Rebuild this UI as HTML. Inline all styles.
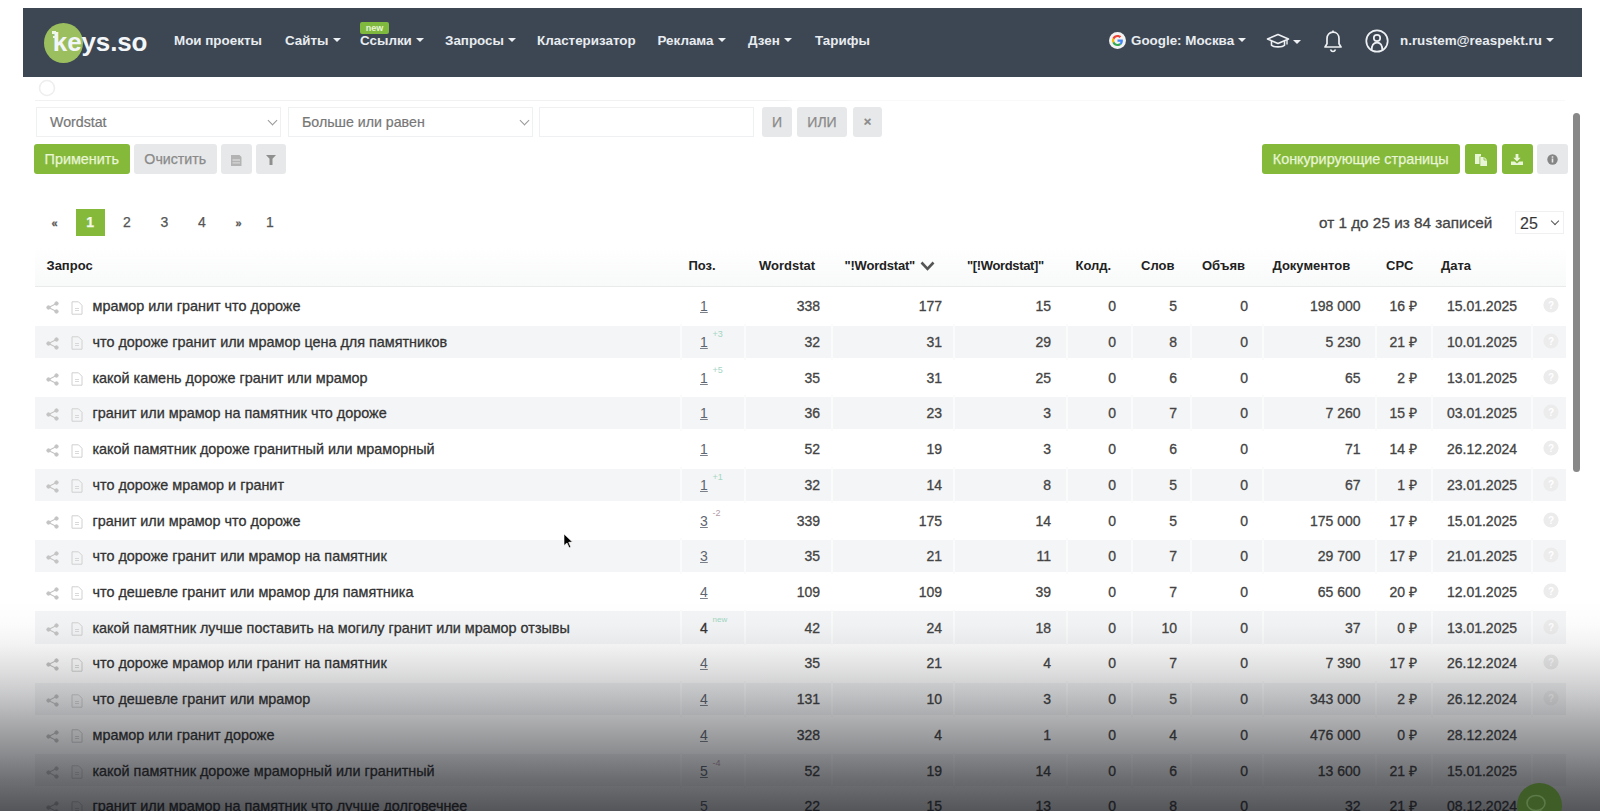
<!DOCTYPE html>
<html lang="ru"><head><meta charset="utf-8"><title>keys.so</title>
<style>
*{box-sizing:border-box;margin:0;padding:0}
html,body{width:1600px;height:811px;overflow:hidden;background:#fff}
body{position:relative;font-family:"Liberation Sans",Arial,sans-serif;color:#333}
.abs{position:absolute;white-space:nowrap}
svg.abs{z-index:3}
/* navbar */
#nav{position:absolute;left:23px;top:8px;width:1559px;height:69px;background:#3d4753}
.nv{position:absolute;top:32.5px;font:bold 13.4px/16px "Liberation Sans",sans-serif;color:#e8ecf0;white-space:nowrap}
.car{display:inline-block;width:0;height:0;border-left:4px solid transparent;border-right:4px solid transparent;border-top:4.5px solid #eef1f4;vertical-align:middle;margin-left:4px;position:relative;top:-1px}
#logo-c{position:absolute;left:44px;top:22.5px;width:39px;height:40px;border-radius:50%;background:#9bbf5e}
#logo-t{position:absolute;left:52.8px;top:27px;font:bold 26px/30px "Liberation Sans",sans-serif;color:#f3f6f9;letter-spacing:-0.12px}
#newb{position:absolute;left:360px;top:21.5px;width:29px;height:12px;background:#7fb93e;border-radius:2px;color:#e8f5d8;font:bold 9px/12px "Liberation Sans",sans-serif;text-align:center}
/* filters */
.sel{position:absolute;height:30px;border:1px solid #eef0f1;background:#fff;font:14.2px/28px "Liberation Sans",sans-serif;color:#777;padding-left:13px;-webkit-text-stroke:.2px #777}
.chev{position:absolute;width:7px;height:7px;border-right:1.5px solid #999;border-bottom:1.5px solid #999;transform:rotate(45deg)}
.btn{position:absolute;height:30px;border-radius:3px;font:14px/30px "Liberation Sans",sans-serif;text-align:center;-webkit-text-stroke:.25px currentColor}
.g{background:#85b93a;color:#e8f5d6}
.gr{background:#e7e8e9;color:#8a8a8a}
/* pagination */
.pg{position:absolute;top:214px;font:14px/17px "Liberation Sans",sans-serif;color:#555;-webkit-text-stroke:.25px #555}
/* table */
#thead{position:absolute;left:35px;top:247px;width:1531px;height:39.5px;background:linear-gradient(#fff,#f8f9f9);border-bottom:1.5px solid #e8eaec}
.th{position:absolute;top:258px;font:bold 13px/16px "Liberation Sans",sans-serif;color:#222;white-space:nowrap}
.row{position:absolute;left:35px;width:1531px;height:35.72px}
.row .bg{position:absolute;left:0;right:0;top:1.8px;bottom:1.9px;background:#f4f5f6}
.sep{position:absolute;top:0;width:1.8px;height:100%;background:#fafbfb}
.row span,.row sup{position:absolute;white-space:nowrap}
.sh{left:11px;top:13px;line-height:0}
.sh svg{fill:#c4c4c4;stroke:#c4c4c4}
.dc{left:36px;top:12.5px;line-height:0}
.dc svg{stroke:#d0d0d0}
.q{left:57.5px;top:9px;font:14.4px/18px "Liberation Sans",sans-serif;color:#333;-webkit-text-stroke:.3px #333}
.pos{left:665px;top:9px;font:14px/18px "Liberation Sans",sans-serif;color:#5f6672;text-decoration:underline;text-decoration-color:#7a808a}
.pos.nou{text-decoration:none;color:#333;-webkit-text-stroke:.3px #333}
.chg{left:677.5px;top:5px;font:9px/10px "Liberation Sans",sans-serif}
.chg.up{color:#a3d6c4}.chg.dn{color:#b49aa6}.chg.new{color:#9fd6c2;font-size:8px}
.n{top:9px;font:14px/18px "Liberation Sans",sans-serif;color:#444;-webkit-text-stroke:.3px #444}
.qq{left:1507.5px;top:9px;line-height:0}
#grad{position:absolute;left:0;top:600px;width:1600px;height:211px;background:linear-gradient(to bottom,rgba(8,10,16,0) 0px,rgba(8,10,16,0.015) 25px,rgba(8,10,16,0.05) 45px,rgba(8,10,16,0.13) 70px,rgba(8,10,16,0.22) 94px,rgba(8,10,16,0.34) 122px,rgba(8,10,16,0.46) 151px,rgba(8,10,16,0.58) 179px,rgba(8,10,16,0.69) 211px)}
#sb{position:absolute;left:1572.8px;top:112.8px;width:7.4px;height:359px;background:#888;border-radius:3.5px}
#chat{position:absolute;left:1516.5px;top:783.3px;width:45px;height:45px;border-radius:50%;background:#3f5d26;z-index:5}
</style></head><body>

<div id="nav"></div>
<div id="logo-c"></div>
<div id="logo-t">keys.so</div>
<div class="abs" style="left:52px;top:31px;width:4px;height:2.6px;background:#eef6e4"></div><div class="abs" style="left:52.6px;top:36.1px;width:3.4px;height:2.3px;background:#eef6e4"></div>
<div class="it-wrap">
<span class="abs nv" style="left:174px">Мои проекты</span>
<span class="abs nv" style="left:285px">Сайты<i class="car"></i></span>
<span class="abs nv" style="left:360px">Ссылки<i class="car"></i></span>
<span class="abs nv" style="left:445px">Запросы<i class="car"></i></span>
<span class="abs nv" style="left:537px">Кластеризатор</span>
<span class="abs nv" style="left:657.5px">Реклама<i class="car"></i></span>
<span class="abs nv" style="left:748px">Дзен<i class="car"></i></span>
<span class="abs nv" style="left:815px">Тарифы</span>
<span class="abs nv" style="left:1131px">Google: Москва<i class="car"></i></span>
<span class="abs nv" style="left:1400px">n.rustem@reaspekt.ru<i class="car"></i></span>
</div>
<div id="newb">new</div>

<!-- nav icons -->
<svg class="abs" style="left:1109px;top:32px" width="17" height="17" viewBox="0 0 17 17"><circle cx="8.5" cy="8.5" r="8.5" fill="#f2f2f2"/><g transform="translate(2.9 2.9) scale(.2333)"><path fill="#EA4335" d="M24 9.5c3.54 0 6.71 1.22 9.21 3.6l6.85-6.850C35.9 2.38 30.47 0 24 0 14.62 0 6.51 5.38 2.56 13.22l7.98 6.19C12.43 13.72 17.74 9.5 24 9.5z"/><path fill="#4285F4" d="M46.98 24.55c0-1.57-.15-3.09-.38-4.55H24v9.02h12.94c-.58 2.96-2.260 5.48-4.78 7.18l7.73 6c4.51-4.18 7.09-10.36 7.09-17.65z"/><path fill="#FBBC05" d="M10.53 28.59c-.48-1.45-.76-2.99-.76-4.59s.27-3.14.76-4.59l-7.98-6.19C.92 16.46 0 20.12 0 24c0 3.88.92 7.54 2.56 10.78l7.97-6.19z"/><path fill="#34A853" d="M24 48c6.48 0 11.93-2.13 15.89-5.81l-7.73-6c-2.15 1.45-4.92 2.3-8.16 2.3-6.26 0-11.57-4.22-13.47-9.91l-7.98 6.19C6.51 42.62 14.62 48 24 48z"/></g></svg>
<svg class="abs" style="left:1266px;top:33px" width="24" height="16" viewBox="0 0 24 16"><path d="M12 1.5L1.5 6 12 10.5 22.5 6z" fill="none" stroke="#eef1f4" stroke-width="1.6" stroke-linejoin="round"/><path d="M5.5 8v4.2c2 2.2 11 2.2 13 0V8" fill="none" stroke="#eef1f4" stroke-width="1.6"/><path d="M21 6.5v5" stroke="#eef1f4" stroke-width="1.4"/></svg>
<i class="car" style="position:absolute;left:1293px;top:40px;margin:0"></i>
<svg class="abs" style="left:1323px;top:30px" width="20" height="23" viewBox="0 0 20 23"><path d="M10 2.2c-3.6 0-6 2.7-6 6.3v5.3L2 17h16l-2-3.2V8.5c0-3.6-2.4-6.3-6-6.3z" fill="none" stroke="#eef1f4" stroke-width="1.7" stroke-linejoin="round"/><path d="M7.5 19.5c.5 1.3 1.4 2 2.5 2s2-.7 2.5-2" fill="none" stroke="#eef1f4" stroke-width="1.6"/><path d="M10 .5v1.8" stroke="#eef1f4" stroke-width="1.6"/></svg>
<svg class="abs" style="left:1365px;top:29px" width="24" height="24" viewBox="0 0 24 24"><circle cx="12" cy="12" r="10.7" fill="none" stroke="#eef1f4" stroke-width="1.7"/><circle cx="12" cy="9" r="3.2" fill="none" stroke="#eef1f4" stroke-width="1.7"/><path d="M6.6 21.5C6.6 16.3 8.8 13.6 12 13.6s5.4 2.7 5.4 7.9" fill="none" stroke="#eef1f4" stroke-width="1.7"/></svg>
<!-- search icon faint -->
<svg class="abs" style="left:38px;top:79px" width="20" height="20" viewBox="0 0 20 20"><circle cx="9" cy="9" r="7.5" fill="none" stroke="#eeeeee" stroke-width="1.6"/></svg>
<div class="abs" style="left:35px;top:100px;width:1530px;height:1px;background:linear-gradient(to right,#f0f1f2 0,#f0f1f2 750px,#f8f9f9 760px,#f8f9f9 100%)"></div>
<!-- button icons -->
<svg class="abs" style="left:231px;top:154.5px" width="11" height="11" viewBox="0 0 11 11"><path d="M0 0h8.5l2 2v9H0z" fill="#b3b3b3"/><path d="M1.5 4.3h7.5v1.4H1.5zM1.5 7.3h7.5v1.2H1.5z" fill="#d6d6d6"/></svg>
<svg class="abs" style="left:266px;top:155px" width="10" height="10" viewBox="0 0 10 10"><path d="M0 0h10l-3.5 3.8V10H3.5V3.8z" fill="#8f8f8f"/></svg>
<svg class="abs" style="left:1474.5px;top:153.5px" width="13" height="12" viewBox="0 0 13 12"><path d="M0 0h6v2.5H4.5V10H0z" fill="#e8f5d6"/><path d="M5.3 3h3.9l2.8 2.8V12H5.3z" fill="#e8f5d6"/><path d="M9 3v3h3" fill="none" stroke="#85b93a" stroke-width=".8"/></svg>
<svg class="abs" style="left:1511px;top:153.5px" width="12" height="11" viewBox="0 0 12 11"><path d="M4.6 0h2.8v3.8h2.3L6 7.6 2.3 3.8h2.3z" fill="#e8f5d6"/><path d="M0 7.6h3.6L6 9.6l2.4-2H12V11H0z" fill="#e8f5d6"/></svg>
<svg class="abs" style="left:1547px;top:154px" width="11" height="11" viewBox="0 0 11 11"><circle cx="5.5" cy="5.5" r="5.2" fill="#858585"/><path d="M4.7 4.6h1.6v4H4.7zM4.7 2.2h1.6v1.5H4.7z" fill="#e7e8e9"/></svg>


<!-- filters -->
<div class="sel" style="left:36px;top:107px;width:245px">Wordstat<i class="chev" style="left:232px;top:9px"></i></div>
<div class="sel" style="left:288px;top:107px;width:245px">Больше или равен<i class="chev" style="left:232px;top:9px"></i></div>
<div class="sel" style="left:539px;top:107px;width:215px"></div>
<div class="btn gr" style="left:762px;top:107px;width:30px">И</div>
<div class="btn gr" style="left:797px;top:107px;width:50px">ИЛИ</div>
<div class="btn gr" style="left:853px;top:107px;width:29px;font-weight:bold;font-size:13px">×</div>

<div class="btn g" style="left:34px;top:144px;width:95.5px;font-size:14.4px">Применить</div>
<div class="btn gr" style="left:134px;top:144px;width:82.5px;font-size:14.2px">Очистить</div>
<div class="btn gr" style="left:221px;top:144px;width:31px"></div>
<div class="btn gr" style="left:256px;top:144px;width:29.5px"></div>

<div class="btn g" style="left:1261.5px;top:144px;width:198.5px;font-size:14.4px">Конкурирующие страницы</div>
<div class="btn g" style="left:1465px;top:144px;width:32px"></div>
<div class="btn g" style="left:1501.5px;top:144px;width:31.5px"></div>
<div class="btn gr" style="left:1537px;top:144px;width:31px"></div>

<!-- pagination -->
<span class="pg" style="left:51.5px;font:bold 11px/17px 'Liberation Sans',sans-serif;top:215px">«</span>
<div class="btn g" style="left:75.5px;top:209px;width:29.5px;height:26.5px;border-radius:0;font:bold 14px/26.5px 'Liberation Sans',sans-serif;color:#f4faeb">1</div>
<span class="pg" style="left:123px">2</span>
<span class="pg" style="left:160.5px">3</span>
<span class="pg" style="left:198px">4</span>
<span class="pg" style="left:235.5px;font:bold 11px/17px 'Liberation Sans',sans-serif;top:215px">»</span>
<span class="pg" style="left:266px">1</span>

<span class="abs" style="left:1319px;top:214px;font:15.3px/18px 'Liberation Sans',sans-serif;color:#444;-webkit-text-stroke:.3px #444">от 1 до 25 из 84 записей</span>
<div class="sel" style="left:1515px;top:211px;width:49px;height:22.5px;font:16px/20px 'Liberation Sans',sans-serif;color:#333;padding-left:4px;padding-top:1.5px">25<i class="chev" style="left:36px;top:6px;width:6px;height:6px;border-color:#555"></i></div>

<!-- table header -->
<div id="thead"></div>
<span class="th" style="left:46.5px">Запрос</span>
<span class="th" style="left:688.5px">Поз.</span>
<span class="th" style="left:759px">Wordstat</span>
<span class="th" style="left:844.5px;letter-spacing:-.2px">"!Wordstat"</span>
<svg class="abs" style="left:920px;top:261px" width="15" height="10" viewBox="0 0 15 10"><path d="M1.5 1.5L7.5 7.8L13.5 1.5" fill="none" stroke="#555" stroke-width="2.6"/></svg>
<span class="th" style="left:967px;letter-spacing:-.35px">"[!Wordstat]"</span>
<span class="th" style="left:1075.5px">Колд.</span>
<span class="th" style="left:1141px">Слов</span>
<span class="th" style="left:1202px">Объяв</span>
<span class="th" style="left:1272.5px">Документов</span>
<span class="th" style="left:1386px">CPC</span>
<span class="th" style="left:1441px">Дата</span>

<div class="row" style="top:288.20px"><span class="sh"><svg class="ic1" width="13" height="13" viewBox="0 0 13 13"><circle cx="2.5" cy="6.5" r="1.7" /><circle cx="10.5" cy="2.5" r="1.7"/><circle cx="10.5" cy="10.5" r="1.7"/><path d="M2.5 6.5L10.5 2.5M2.5 6.5L10.5 10.5" stroke-width="1.1"/></svg></span><span class="dc"><svg class="ic2" width="12" height="14" viewBox="0 0 12 14"><path d="M1 .8h6.5L11 4.3v8.9H1z" fill="none" stroke-width="1"/><path d="M4 7.5h4M4 9.5h4" stroke-width=".8"/></svg></span><span class="q">мрамор или гранит что дороже</span><span class="pos">1</span><span class="n" style="right:746.0px">338</span><span class="n" style="right:624.0px">177</span><span class="n" style="right:515.0px">15</span><span class="n" style="right:450.0px">0</span><span class="n" style="right:389.0px">5</span><span class="n" style="right:318.0px">0</span><span class="n" style="right:205.5px">198 000</span><span class="n" style="right:149.0px">16 ₽</span><span class="n" style="right:49.0px">15.01.2025</span><span class="qq"><svg class="ic3" width="16" height="16" viewBox="0 0 16 16"><circle cx="8" cy="8" r="7.6" fill="#ececec"/><text x="8" y="11.6" font-size="10" font-weight="bold" text-anchor="middle" font-family="Liberation Sans" fill="#fff">?</text></svg></span></div>
<div class="row odd" style="top:323.92px"><i class="bg"></i><i class="sep" style="left:645px"></i><i class="sep" style="left:709px"></i><i class="sep" style="left:796px"></i><i class="sep" style="left:918px"></i><i class="sep" style="left:1031px"></i><i class="sep" style="left:1096px"></i><i class="sep" style="left:1155px"></i><i class="sep" style="left:1227px"></i><i class="sep" style="left:1340px"></i><i class="sep" style="left:1396px"></i><i class="sep" style="left:1496px"></i><span class="sh"><svg class="ic1" width="13" height="13" viewBox="0 0 13 13"><circle cx="2.5" cy="6.5" r="1.7" /><circle cx="10.5" cy="2.5" r="1.7"/><circle cx="10.5" cy="10.5" r="1.7"/><path d="M2.5 6.5L10.5 2.5M2.5 6.5L10.5 10.5" stroke-width="1.1"/></svg></span><span class="dc"><svg class="ic2" width="12" height="14" viewBox="0 0 12 14"><path d="M1 .8h6.5L11 4.3v8.9H1z" fill="none" stroke-width="1"/><path d="M4 7.5h4M4 9.5h4" stroke-width=".8"/></svg></span><span class="q">что дороже гранит или мрамор цена для памятников</span><span class="pos">1</span><sup class="chg up">+3</sup><span class="n" style="right:746.0px">32</span><span class="n" style="right:624.0px">31</span><span class="n" style="right:515.0px">29</span><span class="n" style="right:450.0px">0</span><span class="n" style="right:389.0px">8</span><span class="n" style="right:318.0px">0</span><span class="n" style="right:205.5px">5 230</span><span class="n" style="right:149.0px">21 ₽</span><span class="n" style="right:49.0px">10.01.2025</span><span class="qq"><svg class="ic3" width="16" height="16" viewBox="0 0 16 16"><circle cx="8" cy="8" r="7.6" fill="#ececec"/><text x="8" y="11.6" font-size="10" font-weight="bold" text-anchor="middle" font-family="Liberation Sans" fill="#fff">?</text></svg></span></div>
<div class="row" style="top:359.64px"><span class="sh"><svg class="ic1" width="13" height="13" viewBox="0 0 13 13"><circle cx="2.5" cy="6.5" r="1.7" /><circle cx="10.5" cy="2.5" r="1.7"/><circle cx="10.5" cy="10.5" r="1.7"/><path d="M2.5 6.5L10.5 2.5M2.5 6.5L10.5 10.5" stroke-width="1.1"/></svg></span><span class="dc"><svg class="ic2" width="12" height="14" viewBox="0 0 12 14"><path d="M1 .8h6.5L11 4.3v8.9H1z" fill="none" stroke-width="1"/><path d="M4 7.5h4M4 9.5h4" stroke-width=".8"/></svg></span><span class="q">какой камень дороже гранит или мрамор</span><span class="pos">1</span><sup class="chg up">+5</sup><span class="n" style="right:746.0px">35</span><span class="n" style="right:624.0px">31</span><span class="n" style="right:515.0px">25</span><span class="n" style="right:450.0px">0</span><span class="n" style="right:389.0px">6</span><span class="n" style="right:318.0px">0</span><span class="n" style="right:205.5px">65</span><span class="n" style="right:149.0px">2 ₽</span><span class="n" style="right:49.0px">13.01.2025</span><span class="qq"><svg class="ic3" width="16" height="16" viewBox="0 0 16 16"><circle cx="8" cy="8" r="7.6" fill="#ececec"/><text x="8" y="11.6" font-size="10" font-weight="bold" text-anchor="middle" font-family="Liberation Sans" fill="#fff">?</text></svg></span></div>
<div class="row odd" style="top:395.36px"><i class="bg"></i><i class="sep" style="left:645px"></i><i class="sep" style="left:709px"></i><i class="sep" style="left:796px"></i><i class="sep" style="left:918px"></i><i class="sep" style="left:1031px"></i><i class="sep" style="left:1096px"></i><i class="sep" style="left:1155px"></i><i class="sep" style="left:1227px"></i><i class="sep" style="left:1340px"></i><i class="sep" style="left:1396px"></i><i class="sep" style="left:1496px"></i><span class="sh"><svg class="ic1" width="13" height="13" viewBox="0 0 13 13"><circle cx="2.5" cy="6.5" r="1.7" /><circle cx="10.5" cy="2.5" r="1.7"/><circle cx="10.5" cy="10.5" r="1.7"/><path d="M2.5 6.5L10.5 2.5M2.5 6.5L10.5 10.5" stroke-width="1.1"/></svg></span><span class="dc"><svg class="ic2" width="12" height="14" viewBox="0 0 12 14"><path d="M1 .8h6.5L11 4.3v8.9H1z" fill="none" stroke-width="1"/><path d="M4 7.5h4M4 9.5h4" stroke-width=".8"/></svg></span><span class="q">гранит или мрамор на памятник что дороже</span><span class="pos">1</span><span class="n" style="right:746.0px">36</span><span class="n" style="right:624.0px">23</span><span class="n" style="right:515.0px">3</span><span class="n" style="right:450.0px">0</span><span class="n" style="right:389.0px">7</span><span class="n" style="right:318.0px">0</span><span class="n" style="right:205.5px">7 260</span><span class="n" style="right:149.0px">15 ₽</span><span class="n" style="right:49.0px">03.01.2025</span><span class="qq"><svg class="ic3" width="16" height="16" viewBox="0 0 16 16"><circle cx="8" cy="8" r="7.6" fill="#ececec"/><text x="8" y="11.6" font-size="10" font-weight="bold" text-anchor="middle" font-family="Liberation Sans" fill="#fff">?</text></svg></span></div>
<div class="row" style="top:431.08px"><span class="sh"><svg class="ic1" width="13" height="13" viewBox="0 0 13 13"><circle cx="2.5" cy="6.5" r="1.7" /><circle cx="10.5" cy="2.5" r="1.7"/><circle cx="10.5" cy="10.5" r="1.7"/><path d="M2.5 6.5L10.5 2.5M2.5 6.5L10.5 10.5" stroke-width="1.1"/></svg></span><span class="dc"><svg class="ic2" width="12" height="14" viewBox="0 0 12 14"><path d="M1 .8h6.5L11 4.3v8.9H1z" fill="none" stroke-width="1"/><path d="M4 7.5h4M4 9.5h4" stroke-width=".8"/></svg></span><span class="q">какой памятник дороже гранитный или мраморный</span><span class="pos">1</span><span class="n" style="right:746.0px">52</span><span class="n" style="right:624.0px">19</span><span class="n" style="right:515.0px">3</span><span class="n" style="right:450.0px">0</span><span class="n" style="right:389.0px">6</span><span class="n" style="right:318.0px">0</span><span class="n" style="right:205.5px">71</span><span class="n" style="right:149.0px">14 ₽</span><span class="n" style="right:49.0px">26.12.2024</span><span class="qq"><svg class="ic3" width="16" height="16" viewBox="0 0 16 16"><circle cx="8" cy="8" r="7.6" fill="#ececec"/><text x="8" y="11.6" font-size="10" font-weight="bold" text-anchor="middle" font-family="Liberation Sans" fill="#fff">?</text></svg></span></div>
<div class="row odd" style="top:466.80px"><i class="bg"></i><i class="sep" style="left:645px"></i><i class="sep" style="left:709px"></i><i class="sep" style="left:796px"></i><i class="sep" style="left:918px"></i><i class="sep" style="left:1031px"></i><i class="sep" style="left:1096px"></i><i class="sep" style="left:1155px"></i><i class="sep" style="left:1227px"></i><i class="sep" style="left:1340px"></i><i class="sep" style="left:1396px"></i><i class="sep" style="left:1496px"></i><span class="sh"><svg class="ic1" width="13" height="13" viewBox="0 0 13 13"><circle cx="2.5" cy="6.5" r="1.7" /><circle cx="10.5" cy="2.5" r="1.7"/><circle cx="10.5" cy="10.5" r="1.7"/><path d="M2.5 6.5L10.5 2.5M2.5 6.5L10.5 10.5" stroke-width="1.1"/></svg></span><span class="dc"><svg class="ic2" width="12" height="14" viewBox="0 0 12 14"><path d="M1 .8h6.5L11 4.3v8.9H1z" fill="none" stroke-width="1"/><path d="M4 7.5h4M4 9.5h4" stroke-width=".8"/></svg></span><span class="q">что дороже мрамор и гранит</span><span class="pos">1</span><sup class="chg up">+1</sup><span class="n" style="right:746.0px">32</span><span class="n" style="right:624.0px">14</span><span class="n" style="right:515.0px">8</span><span class="n" style="right:450.0px">0</span><span class="n" style="right:389.0px">5</span><span class="n" style="right:318.0px">0</span><span class="n" style="right:205.5px">67</span><span class="n" style="right:149.0px">1 ₽</span><span class="n" style="right:49.0px">23.01.2025</span><span class="qq"><svg class="ic3" width="16" height="16" viewBox="0 0 16 16"><circle cx="8" cy="8" r="7.6" fill="#ececec"/><text x="8" y="11.6" font-size="10" font-weight="bold" text-anchor="middle" font-family="Liberation Sans" fill="#fff">?</text></svg></span></div>
<div class="row" style="top:502.52px"><span class="sh"><svg class="ic1" width="13" height="13" viewBox="0 0 13 13"><circle cx="2.5" cy="6.5" r="1.7" /><circle cx="10.5" cy="2.5" r="1.7"/><circle cx="10.5" cy="10.5" r="1.7"/><path d="M2.5 6.5L10.5 2.5M2.5 6.5L10.5 10.5" stroke-width="1.1"/></svg></span><span class="dc"><svg class="ic2" width="12" height="14" viewBox="0 0 12 14"><path d="M1 .8h6.5L11 4.3v8.9H1z" fill="none" stroke-width="1"/><path d="M4 7.5h4M4 9.5h4" stroke-width=".8"/></svg></span><span class="q">гранит или мрамор что дороже</span><span class="pos">3</span><sup class="chg dn">-2</sup><span class="n" style="right:746.0px">339</span><span class="n" style="right:624.0px">175</span><span class="n" style="right:515.0px">14</span><span class="n" style="right:450.0px">0</span><span class="n" style="right:389.0px">5</span><span class="n" style="right:318.0px">0</span><span class="n" style="right:205.5px">175 000</span><span class="n" style="right:149.0px">17 ₽</span><span class="n" style="right:49.0px">15.01.2025</span><span class="qq"><svg class="ic3" width="16" height="16" viewBox="0 0 16 16"><circle cx="8" cy="8" r="7.6" fill="#ececec"/><text x="8" y="11.6" font-size="10" font-weight="bold" text-anchor="middle" font-family="Liberation Sans" fill="#fff">?</text></svg></span></div>
<div class="row odd" style="top:538.24px"><i class="bg"></i><i class="sep" style="left:645px"></i><i class="sep" style="left:709px"></i><i class="sep" style="left:796px"></i><i class="sep" style="left:918px"></i><i class="sep" style="left:1031px"></i><i class="sep" style="left:1096px"></i><i class="sep" style="left:1155px"></i><i class="sep" style="left:1227px"></i><i class="sep" style="left:1340px"></i><i class="sep" style="left:1396px"></i><i class="sep" style="left:1496px"></i><span class="sh"><svg class="ic1" width="13" height="13" viewBox="0 0 13 13"><circle cx="2.5" cy="6.5" r="1.7" /><circle cx="10.5" cy="2.5" r="1.7"/><circle cx="10.5" cy="10.5" r="1.7"/><path d="M2.5 6.5L10.5 2.5M2.5 6.5L10.5 10.5" stroke-width="1.1"/></svg></span><span class="dc"><svg class="ic2" width="12" height="14" viewBox="0 0 12 14"><path d="M1 .8h6.5L11 4.3v8.9H1z" fill="none" stroke-width="1"/><path d="M4 7.5h4M4 9.5h4" stroke-width=".8"/></svg></span><span class="q">что дороже гранит или мрамор на памятник</span><span class="pos">3</span><span class="n" style="right:746.0px">35</span><span class="n" style="right:624.0px">21</span><span class="n" style="right:515.0px">11</span><span class="n" style="right:450.0px">0</span><span class="n" style="right:389.0px">7</span><span class="n" style="right:318.0px">0</span><span class="n" style="right:205.5px">29 700</span><span class="n" style="right:149.0px">17 ₽</span><span class="n" style="right:49.0px">21.01.2025</span><span class="qq"><svg class="ic3" width="16" height="16" viewBox="0 0 16 16"><circle cx="8" cy="8" r="7.6" fill="#ececec"/><text x="8" y="11.6" font-size="10" font-weight="bold" text-anchor="middle" font-family="Liberation Sans" fill="#fff">?</text></svg></span></div>
<div class="row" style="top:573.96px"><span class="sh"><svg class="ic1" width="13" height="13" viewBox="0 0 13 13"><circle cx="2.5" cy="6.5" r="1.7" /><circle cx="10.5" cy="2.5" r="1.7"/><circle cx="10.5" cy="10.5" r="1.7"/><path d="M2.5 6.5L10.5 2.5M2.5 6.5L10.5 10.5" stroke-width="1.1"/></svg></span><span class="dc"><svg class="ic2" width="12" height="14" viewBox="0 0 12 14"><path d="M1 .8h6.5L11 4.3v8.9H1z" fill="none" stroke-width="1"/><path d="M4 7.5h4M4 9.5h4" stroke-width=".8"/></svg></span><span class="q">что дешевле гранит или мрамор для памятника</span><span class="pos">4</span><span class="n" style="right:746.0px">109</span><span class="n" style="right:624.0px">109</span><span class="n" style="right:515.0px">39</span><span class="n" style="right:450.0px">0</span><span class="n" style="right:389.0px">7</span><span class="n" style="right:318.0px">0</span><span class="n" style="right:205.5px">65 600</span><span class="n" style="right:149.0px">20 ₽</span><span class="n" style="right:49.0px">12.01.2025</span><span class="qq"><svg class="ic3" width="16" height="16" viewBox="0 0 16 16"><circle cx="8" cy="8" r="7.6" fill="#ececec"/><text x="8" y="11.6" font-size="10" font-weight="bold" text-anchor="middle" font-family="Liberation Sans" fill="#fff">?</text></svg></span></div>
<div class="row odd" style="top:609.68px"><i class="bg"></i><i class="sep" style="left:645px"></i><i class="sep" style="left:709px"></i><i class="sep" style="left:796px"></i><i class="sep" style="left:918px"></i><i class="sep" style="left:1031px"></i><i class="sep" style="left:1096px"></i><i class="sep" style="left:1155px"></i><i class="sep" style="left:1227px"></i><i class="sep" style="left:1340px"></i><i class="sep" style="left:1396px"></i><i class="sep" style="left:1496px"></i><span class="sh"><svg class="ic1" width="13" height="13" viewBox="0 0 13 13"><circle cx="2.5" cy="6.5" r="1.7" /><circle cx="10.5" cy="2.5" r="1.7"/><circle cx="10.5" cy="10.5" r="1.7"/><path d="M2.5 6.5L10.5 2.5M2.5 6.5L10.5 10.5" stroke-width="1.1"/></svg></span><span class="dc"><svg class="ic2" width="12" height="14" viewBox="0 0 12 14"><path d="M1 .8h6.5L11 4.3v8.9H1z" fill="none" stroke-width="1"/><path d="M4 7.5h4M4 9.5h4" stroke-width=".8"/></svg></span><span class="q">какой памятник лучше поставить на могилу гранит или мрамор отзывы</span><span class="pos nou">4</span><sup class="chg new">new</sup><span class="n" style="right:746.0px">42</span><span class="n" style="right:624.0px">24</span><span class="n" style="right:515.0px">18</span><span class="n" style="right:450.0px">0</span><span class="n" style="right:389.0px">10</span><span class="n" style="right:318.0px">0</span><span class="n" style="right:205.5px">37</span><span class="n" style="right:149.0px">0 ₽</span><span class="n" style="right:49.0px">13.01.2025</span><span class="qq"><svg class="ic3" width="16" height="16" viewBox="0 0 16 16"><circle cx="8" cy="8" r="7.6" fill="#ececec"/><text x="8" y="11.6" font-size="10" font-weight="bold" text-anchor="middle" font-family="Liberation Sans" fill="#fff">?</text></svg></span></div>
<div class="row" style="top:645.40px"><span class="sh"><svg class="ic1" width="13" height="13" viewBox="0 0 13 13"><circle cx="2.5" cy="6.5" r="1.7" /><circle cx="10.5" cy="2.5" r="1.7"/><circle cx="10.5" cy="10.5" r="1.7"/><path d="M2.5 6.5L10.5 2.5M2.5 6.5L10.5 10.5" stroke-width="1.1"/></svg></span><span class="dc"><svg class="ic2" width="12" height="14" viewBox="0 0 12 14"><path d="M1 .8h6.5L11 4.3v8.9H1z" fill="none" stroke-width="1"/><path d="M4 7.5h4M4 9.5h4" stroke-width=".8"/></svg></span><span class="q">что дороже мрамор или гранит на памятник</span><span class="pos">4</span><span class="n" style="right:746.0px">35</span><span class="n" style="right:624.0px">21</span><span class="n" style="right:515.0px">4</span><span class="n" style="right:450.0px">0</span><span class="n" style="right:389.0px">7</span><span class="n" style="right:318.0px">0</span><span class="n" style="right:205.5px">7 390</span><span class="n" style="right:149.0px">17 ₽</span><span class="n" style="right:49.0px">26.12.2024</span><span class="qq"><svg class="ic3" width="16" height="16" viewBox="0 0 16 16"><circle cx="8" cy="8" r="7.6" fill="#ececec"/><text x="8" y="11.6" font-size="10" font-weight="bold" text-anchor="middle" font-family="Liberation Sans" fill="#fff">?</text></svg></span></div>
<div class="row odd" style="top:681.12px"><i class="bg"></i><i class="sep" style="left:645px"></i><i class="sep" style="left:709px"></i><i class="sep" style="left:796px"></i><i class="sep" style="left:918px"></i><i class="sep" style="left:1031px"></i><i class="sep" style="left:1096px"></i><i class="sep" style="left:1155px"></i><i class="sep" style="left:1227px"></i><i class="sep" style="left:1340px"></i><i class="sep" style="left:1396px"></i><i class="sep" style="left:1496px"></i><span class="sh"><svg class="ic1" width="13" height="13" viewBox="0 0 13 13"><circle cx="2.5" cy="6.5" r="1.7" /><circle cx="10.5" cy="2.5" r="1.7"/><circle cx="10.5" cy="10.5" r="1.7"/><path d="M2.5 6.5L10.5 2.5M2.5 6.5L10.5 10.5" stroke-width="1.1"/></svg></span><span class="dc"><svg class="ic2" width="12" height="14" viewBox="0 0 12 14"><path d="M1 .8h6.5L11 4.3v8.9H1z" fill="none" stroke-width="1"/><path d="M4 7.5h4M4 9.5h4" stroke-width=".8"/></svg></span><span class="q">что дешевле гранит или мрамор</span><span class="pos">4</span><span class="n" style="right:746.0px">131</span><span class="n" style="right:624.0px">10</span><span class="n" style="right:515.0px">3</span><span class="n" style="right:450.0px">0</span><span class="n" style="right:389.0px">5</span><span class="n" style="right:318.0px">0</span><span class="n" style="right:205.5px">343 000</span><span class="n" style="right:149.0px">2 ₽</span><span class="n" style="right:49.0px">26.12.2024</span><span class="qq"><svg class="ic3" width="16" height="16" viewBox="0 0 16 16"><circle cx="8" cy="8" r="7.6" fill="#ececec"/><text x="8" y="11.6" font-size="10" font-weight="bold" text-anchor="middle" font-family="Liberation Sans" fill="#fff">?</text></svg></span></div>
<div class="row" style="top:716.84px"><span class="sh"><svg class="ic1" width="13" height="13" viewBox="0 0 13 13"><circle cx="2.5" cy="6.5" r="1.7" /><circle cx="10.5" cy="2.5" r="1.7"/><circle cx="10.5" cy="10.5" r="1.7"/><path d="M2.5 6.5L10.5 2.5M2.5 6.5L10.5 10.5" stroke-width="1.1"/></svg></span><span class="dc"><svg class="ic2" width="12" height="14" viewBox="0 0 12 14"><path d="M1 .8h6.5L11 4.3v8.9H1z" fill="none" stroke-width="1"/><path d="M4 7.5h4M4 9.5h4" stroke-width=".8"/></svg></span><span class="q">мрамор или гранит дороже</span><span class="pos">4</span><span class="n" style="right:746.0px">328</span><span class="n" style="right:624.0px">4</span><span class="n" style="right:515.0px">1</span><span class="n" style="right:450.0px">0</span><span class="n" style="right:389.0px">4</span><span class="n" style="right:318.0px">0</span><span class="n" style="right:205.5px">476 000</span><span class="n" style="right:149.0px">0 ₽</span><span class="n" style="right:49.0px">28.12.2024</span></div>
<div class="row odd" style="top:752.56px"><i class="bg"></i><i class="sep" style="left:645px"></i><i class="sep" style="left:709px"></i><i class="sep" style="left:796px"></i><i class="sep" style="left:918px"></i><i class="sep" style="left:1031px"></i><i class="sep" style="left:1096px"></i><i class="sep" style="left:1155px"></i><i class="sep" style="left:1227px"></i><i class="sep" style="left:1340px"></i><i class="sep" style="left:1396px"></i><i class="sep" style="left:1496px"></i><span class="sh"><svg class="ic1" width="13" height="13" viewBox="0 0 13 13"><circle cx="2.5" cy="6.5" r="1.7" /><circle cx="10.5" cy="2.5" r="1.7"/><circle cx="10.5" cy="10.5" r="1.7"/><path d="M2.5 6.5L10.5 2.5M2.5 6.5L10.5 10.5" stroke-width="1.1"/></svg></span><span class="dc"><svg class="ic2" width="12" height="14" viewBox="0 0 12 14"><path d="M1 .8h6.5L11 4.3v8.9H1z" fill="none" stroke-width="1"/><path d="M4 7.5h4M4 9.5h4" stroke-width=".8"/></svg></span><span class="q">какой памятник дороже мраморный или гранитный</span><span class="pos">5</span><sup class="chg dn">-4</sup><span class="n" style="right:746.0px">52</span><span class="n" style="right:624.0px">19</span><span class="n" style="right:515.0px">14</span><span class="n" style="right:450.0px">0</span><span class="n" style="right:389.0px">6</span><span class="n" style="right:318.0px">0</span><span class="n" style="right:205.5px">13 600</span><span class="n" style="right:149.0px">21 ₽</span><span class="n" style="right:49.0px">15.01.2025</span></div>
<div class="row" style="top:788.28px"><span class="sh"><svg class="ic1" width="13" height="13" viewBox="0 0 13 13"><circle cx="2.5" cy="6.5" r="1.7" /><circle cx="10.5" cy="2.5" r="1.7"/><circle cx="10.5" cy="10.5" r="1.7"/><path d="M2.5 6.5L10.5 2.5M2.5 6.5L10.5 10.5" stroke-width="1.1"/></svg></span><span class="dc"><svg class="ic2" width="12" height="14" viewBox="0 0 12 14"><path d="M1 .8h6.5L11 4.3v8.9H1z" fill="none" stroke-width="1"/><path d="M4 7.5h4M4 9.5h4" stroke-width=".8"/></svg></span><span class="q">гранит или мрамор на памятник что лучше долговечнее</span><span class="pos">5</span><span class="n" style="right:746.0px">22</span><span class="n" style="right:624.0px">15</span><span class="n" style="right:515.0px">13</span><span class="n" style="right:450.0px">0</span><span class="n" style="right:389.0px">8</span><span class="n" style="right:318.0px">0</span><span class="n" style="right:205.5px">32</span><span class="n" style="right:149.0px">21 ₽</span><span class="n" style="right:49.0px">08.12.2024</span></div>

<svg class="abs" style="left:562.5px;top:532.5px;z-index:9" width="12" height="17" viewBox="0 0 12 17"><path d="M1 1L1 12.5L4 10L6.2 14.8L7.8 14.1L5.7 9.3L9.4 9.1Z" fill="#000" stroke="#fff" stroke-width=".6" stroke-linejoin="round"/></svg>
<div id="sb"></div>
<div id="grad"></div>
<div id="chat"><svg style="position:absolute;left:8px;top:10px" width="30" height="30" viewBox="0 0 30 30"><ellipse cx="11" cy="10" rx="9" ry="7.5" fill="none" stroke="#5c7a48" stroke-width="1.6"/><path d="M15 17.5c2 1.5 5 2 8 1.5" fill="none" stroke="#5c7a48" stroke-width="1.6"/></svg></div>
</body></html>
